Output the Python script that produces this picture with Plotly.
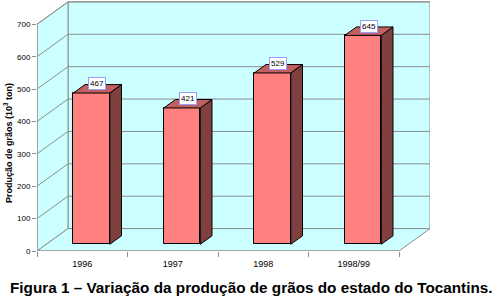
import plotly.graph_objects as go

categories = ["1996", "1997", "1998", "1998/99"]
values = [467, 421, 529, 645]
y_ticks = [0, 100, 200, 300, 400, 500, 600, 700]
y_title = "Produção de grãos (10<sup>3</sup> ton)"
caption = "Figura 1 – Variação da produção de grãos do estado do Tocantins."

# ---- layout geometry (pixels) ----
W, H = 495, 305
L, R, T, B = 37, 65, 1, 54
plot_w = W - L - R
plot_h = H - T - B
PX_CAT = 90.5
PX_VAL = 226.7 / 700.0
x_lo = -0.5
x_hi = x_lo + plot_w / PX_CAT
y_hi = plot_h / PX_VAL
DX = 31.0 / PX_CAT          # depth offset (category units)
DY = 22.4 / PX_VAL          # depth offset (value units)
F0, F1 = 0.30, 0.677        # bar front/back depth fraction
BW = 36.5 / PX_CAT          # bar width
YMAX = max(y_ticks)
n = len(categories)

WALL = "#CCFFFF"
GRID = "#8C8C8C"
FRONT = "#FF8080"
SIDE = "#804040"
TOP = "#C06060"
FONT = "Liberation Sans, Arial, sans-serif"

fig = go.Figure()

shapes = []
# back wall
shapes.append(dict(type="rect", xref="x", yref="y", layer="below",
                   x0=x_lo + DX, x1=x_lo + n + DX, y0=DY, y1=YMAX + DY,
                   fillcolor=WALL, line=dict(color=GRID, width=1)))
# left wall
shapes.append(dict(type="path", xref="x", yref="y", layer="below",
                   path=f"M {x_lo},0 L {x_lo},{YMAX} L {x_lo+DX},{YMAX+DY} L {x_lo+DX},{DY} Z",
                   fillcolor=WALL, line=dict(color=GRID, width=1)))
# floor
shapes.append(dict(type="path", xref="x", yref="y", layer="below",
                   path=f"M {x_lo},0 L {x_lo+n},0 L {x_lo+n+DX},{DY} L {x_lo+DX},{DY} Z",
                   fillcolor=WALL, line=dict(color=GRID, width=1)))
# gridlines
for v in y_ticks[1:]:
    shapes.append(dict(type="line", xref="x", yref="y", layer="below",
                       x0=x_lo + DX, x1=x_lo + n + DX, y0=v + DY, y1=v + DY,
                       line=dict(color=GRID, width=1)))
    shapes.append(dict(type="line", xref="x", yref="y", layer="below",
                       x0=x_lo, x1=x_lo + DX, y0=v, y1=v + DY,
                       line=dict(color=GRID, width=1)))
# front axis lines
shapes.append(dict(type="line", xref="x", yref="y", x0=x_lo, x1=x_lo, y0=0, y1=YMAX,
                   line=dict(color=GRID, width=1)))
shapes.append(dict(type="line", xref="x", yref="y", x0=x_lo, x1=x_lo + n, y0=0, y1=0,
                   line=dict(color=GRID, width=1)))

xc = [i + F0 * DX for i in range(n)]
base0 = F0 * DY
ddx = (F1 - F0) * DX
ddy = (F1 - F0) * DY

fig.add_trace(go.Bar(x=xc, y=values, base=[base0] * n, width=BW,
                     marker=dict(color=FRONT, line=dict(color="black", width=1)),
                     hoverinfo="skip", showlegend=False))

for i, v in enumerate(values):
    xl = xc[i] - BW / 2
    xr = xc[i] + BW / 2
    y0 = base0
    y1 = base0 + v
    fig.add_trace(go.Scatter(
        x=[xr, xr + ddx, xr + ddx, xr, xr],
        y=[y0, y0 + ddy, y1 + ddy, y1, y0],
        fill="toself", fillcolor=SIDE, mode="lines",
        line=dict(color="black", width=1), hoverinfo="skip", showlegend=False))
    fig.add_trace(go.Scatter(
        x=[xl, xr, xr + ddx, xl + ddx, xl],
        y=[y1, y1, y1 + ddy, y1 + ddy, y1],
        fill="toself", fillcolor=TOP, mode="lines",
        line=dict(color="black", width=1), hoverinfo="skip", showlegend=False))

annotations = []
for i, v in enumerate(values):
    annotations.append(dict(x=xc[i] + ddx / 2, y=base0 + v + ddy / 2, xref="x", yref="y",
                            text=str(v), showarrow=False, yshift=5,
                            font=dict(family=FONT, size=8, color="black"),
                            bgcolor="white", bordercolor="#9C9CFF", borderwidth=1,
                            borderpad=1))

annotations.append(dict(x=(8 - L) / plot_w, y=(H - B - 143) / plot_h, xref="paper", yref="paper",
                        text=f"<b>{y_title}</b>", textangle=-90, showarrow=False,
                        xanchor="center", yanchor="middle",
                        font=dict(family=FONT, size=9, color="black")))
annotations.append(dict(x=(251.5 - L) / plot_w, y=(H - B - 287) / plot_h, xref="paper", yref="paper",
                        text=f"<b>{caption}</b>", showarrow=False,
                        xanchor="center", yanchor="middle",
                        font=dict(family=FONT, size=15.3, color="black")))

fig.update_layout(
    width=W, height=H,
    margin=dict(l=L, r=R, t=T, b=B, pad=0),
    paper_bgcolor="white", plot_bgcolor="white",
    shapes=shapes, annotations=annotations,
    bargap=0, showlegend=False,
    xaxis=dict(range=[x_lo, x_hi], showgrid=False, zeroline=False, showline=False,
               tickvals=[x_lo + k for k in range(n + 1)], showticklabels=False,
               ticks="outside", ticklen=5, tickcolor=GRID, tickwidth=1, fixedrange=True),
    xaxis2=dict(range=[x_lo, x_hi], overlaying="x", anchor="y", side="bottom",
                showgrid=False, zeroline=False, showline=False,
                tickvals=list(range(n)), ticktext=categories,
                ticks="outside", ticklen=4, tickcolor="rgba(0,0,0,0)",
                tickfont=dict(family=FONT, size=9, color="black"), fixedrange=True),
    yaxis=dict(range=[0, y_hi], showgrid=False, zeroline=False, showline=False,
               tickvals=y_ticks, ticks="outside", ticklen=4, tickcolor=GRID, tickwidth=1,
               tickfont=dict(family=FONT, size=8, color="black"), fixedrange=True),
)
# invisible trace to activate xaxis2
fig.add_trace(go.Scatter(x=[x_lo], y=[0], xaxis="x2", mode="markers",
                         marker=dict(opacity=0), hoverinfo="skip", showlegend=False))

fig.write_html("out.html", config=dict(displayModeBar=False),
               post_script="document.body.style.margin='0';document.body.style.padding='0';")
